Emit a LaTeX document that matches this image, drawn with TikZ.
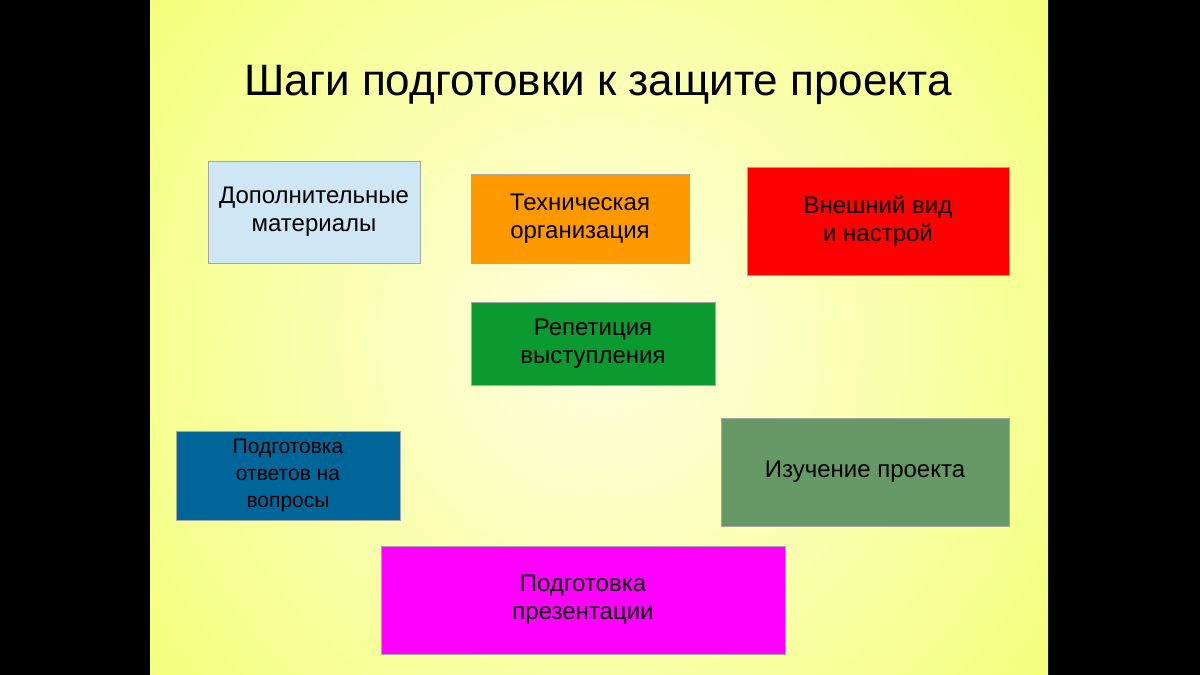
\documentclass[tikz,border=0pt]{standalone}
\usepackage{fontspec}
\setmainfont{Liberation Sans}
\begin{document}
\begin{tikzpicture}[x=1pt,y=-1pt,
  box/.style={draw=gray!70,line width=0.8pt,align=center,font=\fontsize{24}{28}\selectfont,inner sep=0pt}]
\useasboundingbox (0,0) rectangle (1200,675);
\fill[black] (0,0) rectangle (1200,675);
\begin{scope}
\clip (150,0) rectangle (1048,675);
\fill[yellow!80!green!40!yellow] (150,0) rectangle (1048,675);
\shade[inner color={rgb,255:red,255;green,255;blue,225},outer color={rgb,255:red,232;green,255;blue,26}] (600,340) circle (1100);
\end{scope}
\node (title) at (598,85) {\fontsize{44}{50}\selectfont Шаги подготовки к защите проекта};
\path[box,fill={rgb,255:red,207;green,230;blue,245}] (208,161) rectangle (420,263) node[midway] (a) {Дополнительные\\материалы};
\path[box,fill={rgb,255:red,255;green,153;blue,0}] (471,174) rectangle (689,263) node[midway] (b) {Техническая\\организация};
\path[box,fill={rgb,255:red,255;green,0;blue,0}] (747,167) rectangle (1009,275) node[midway] (c) {Внешний вид\\и настрой};
\path[box,fill={rgb,255:red,10;green,154;blue,48}] (471,302) rectangle (715,385) node[midway] (d) {Репетиция\\выступления};
\path[box,fill={rgb,255:red,0;green,102;blue,153},font=\fontsize{21}{27}\selectfont] (176,431) rectangle (400,520) node[midway] (e) {Подготовка\\ответов на\\вопросы};
\path[box,fill={rgb,255:red,102;green,153;blue,102}] (721,418) rectangle (1009,526) node[midway] (f) {Изучение проекта};
\path[box,fill={rgb,255:red,255;green,0;blue,255}] (381,546) rectangle (785,654) node[midway] (g) {Подготовка\\презентации};
\end{tikzpicture}
\end{document}
